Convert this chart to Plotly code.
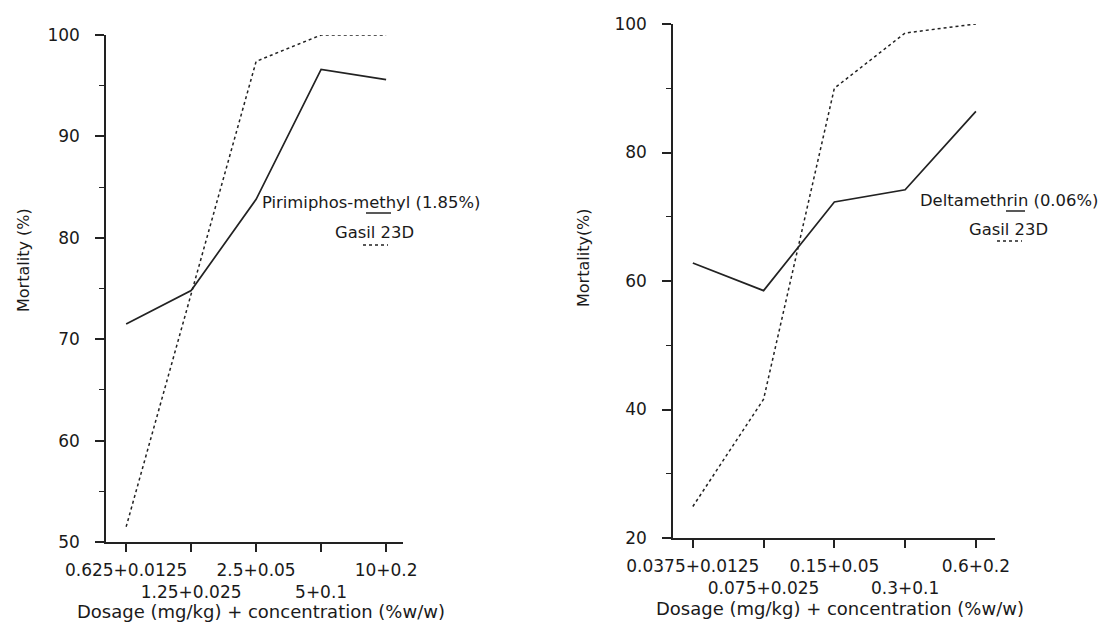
import plotly.graph_objects as go

W, H = 1103, 623

# ---- data ----
left_cats = ["0.625+0.0125", "1.25+0.025", "2.5+0.05", "5+0.1", "10+0.2"]
left_pm = [71.5, 74.8, 83.8, 96.6, 95.6]      # Pirimiphos-methyl (1.85%)
left_gasil = [51.5, 74.5, 97.4, 100.0, 100.0]  # Gasil 23D

right_cats = ["0.0375+0.0125", "0.075+0.025", "0.15+0.05", "0.3+0.1", "0.6+0.2"]
right_delta = [62.8, 58.5, 72.3, 74.2, 86.4]   # Deltamethrin (0.06%)
right_gasil = [24.9, 41.6, 90.0, 98.6, 100.0]  # Gasil 23D

left_yticks = [50, 60, 70, 80, 90, 100]
right_yticks = [20, 40, 60, 80, 100]


def px(x):
    return x / W


def py(y):
    return 1 - y / H


FONT = "DejaVu Sans"
TXT = "#1a1a1a"
LINE = "#222222"

fig = go.Figure()
idx = list(range(5))

fig.add_trace(go.Scatter(x=idx, y=left_pm, mode="lines", xaxis="x", yaxis="y",
                         line=dict(color=LINE, width=1.7), showlegend=False))
fig.add_trace(go.Scatter(x=idx, y=left_gasil, mode="lines", xaxis="x", yaxis="y",
                         line=dict(color=LINE, width=1.5, dash="dot"), showlegend=False))
fig.add_trace(go.Scatter(x=idx, y=right_delta, mode="lines", xaxis="x2", yaxis="y2",
                         line=dict(color=LINE, width=1.7), showlegend=False))
fig.add_trace(go.Scatter(x=idx, y=right_gasil, mode="lines", xaxis="x2", yaxis="y2",
                         line=dict(color=LINE, width=1.5, dash="dot"), showlegend=False))


def two_row(labels):
    return [lab if i % 2 == 0 else "<br>" + lab for i, lab in enumerate(labels)]


common_x = dict(showgrid=False, zeroline=False, showline=True, linecolor=LINE, linewidth=1.5,
                ticks="outside", ticklen=8, tickwidth=1.5, tickcolor=LINE,
                tickmode="array", tickvals=idx, tickangle=0, automargin=False,
                ticklabelstandoff=4,
                tickfont=dict(family=FONT, size=17, color=TXT))
common_y = dict(showgrid=False, zeroline=False, showline=True, linecolor=LINE, linewidth=1.5,
                ticks="outside", ticklen=9, tickwidth=1.5, tickcolor=LINE,
                tickmode="array", ticklabelstandoff=12, automargin=False,
                tickfont=dict(family=FONT, size=17, color=TXT))

fig.update_layout(
    width=W, height=H, margin=dict(l=0, r=0, t=0, b=0),
    paper_bgcolor="white", plot_bgcolor="white",
    xaxis=dict(domain=[px(106), px(403)], range=[-0.31, 4.26], anchor="y",
               ticktext=two_row(left_cats), **common_x),
    yaxis=dict(domain=[py(542), py(35)], range=[50, 100], anchor="x",
               tickvals=left_yticks, ticktext=[str(v) for v in left_yticks],
               minor=dict(dtick=5, tick0=0, ticks="outside", ticklen=5, tickcolor=LINE, tickwidth=1.2),
               **common_y),
    xaxis2=dict(domain=[px(673), px(995)], range=[-0.28, 4.27], anchor="y2",
                ticktext=two_row(right_cats), **common_x),
    yaxis2=dict(domain=[py(538), py(24)], range=[20, 100], anchor="x2",
                tickvals=right_yticks, ticktext=[str(v) for v in right_yticks],
                minor=dict(dtick=10, tick0=0, ticks="outside", ticklen=5, tickcolor=LINE, tickwidth=1.2),
                **common_y),
)

ann = []
# axis titles
ann.append(dict(text="Dosage (mg/kg) + concentration (%w/w)", x=px(261), y=0,
                xref="paper", yref="paper", showarrow=False, xanchor="center", yanchor="bottom",
                borderpad=0, font=dict(family=FONT, size=18, color=TXT)))
ann.append(dict(text="Dosage (mg/kg) + concentration (%w/w)", x=px(840), y=py(620),
                xref="paper", yref="paper", showarrow=False, xanchor="center", yanchor="bottom",
                borderpad=0, font=dict(family=FONT, size=18, color=TXT)))
ann.append(dict(text="Mortality (%)", x=px(23), y=py(260), textangle=-90,
                xref="paper", yref="paper", showarrow=False, xanchor="center", yanchor="middle",
                font=dict(family=FONT, size=16, color=TXT)))
ann.append(dict(text="Mortality(%)", x=px(583), y=py(258), textangle=-90,
                xref="paper", yref="paper", showarrow=False, xanchor="center", yanchor="middle",
                font=dict(family=FONT, size=16, color=TXT)))
# legends
ann.append(dict(text="Pirimiphos-methyl (1.85%)", x=px(260), y=py(202),
                xref="paper", yref="paper", showarrow=False, xanchor="left", yanchor="middle",
                font=dict(family=FONT, size=16.4, color=TXT)))
ann.append(dict(text="Gasil 23D", x=px(333), y=py(232),
                xref="paper", yref="paper", showarrow=False, xanchor="left", yanchor="middle",
                font=dict(family=FONT, size=16.4, color=TXT)))
ann.append(dict(text="Deltamethrin (0.06%)", x=px(918), y=py(200),
                xref="paper", yref="paper", showarrow=False, xanchor="left", yanchor="middle",
                font=dict(family=FONT, size=16.4, color=TXT)))
ann.append(dict(text="Gasil 23D", x=px(967), y=py(230),
                xref="paper", yref="paper", showarrow=False, xanchor="left", yanchor="middle",
                font=dict(family=FONT, size=16.4, color=TXT)))
fig.update_layout(annotations=ann)

shapes = [
    dict(type="line", xref="paper", yref="paper", x0=px(366), x1=px(391), y0=py(213), y1=py(213),
         line=dict(color=LINE, width=1.5)),
    dict(type="line", xref="paper", yref="paper", x0=px(363), x1=px(388), y0=py(245), y1=py(245),
         line=dict(color=LINE, width=1.5, dash="dot")),
    dict(type="line", xref="paper", yref="paper", x0=px(1006), x1=px(1025), y0=py(211), y1=py(211),
         line=dict(color=LINE, width=1.5)),
    dict(type="line", xref="paper", yref="paper", x0=px(997), x1=px(1022), y0=py(241), y1=py(241),
         line=dict(color=LINE, width=1.5, dash="dot")),
]
fig.update_layout(shapes=shapes)

fig.write_html("out.html", config={"displayModeBar": False},
               post_script="document.body.style.margin='0px';")
